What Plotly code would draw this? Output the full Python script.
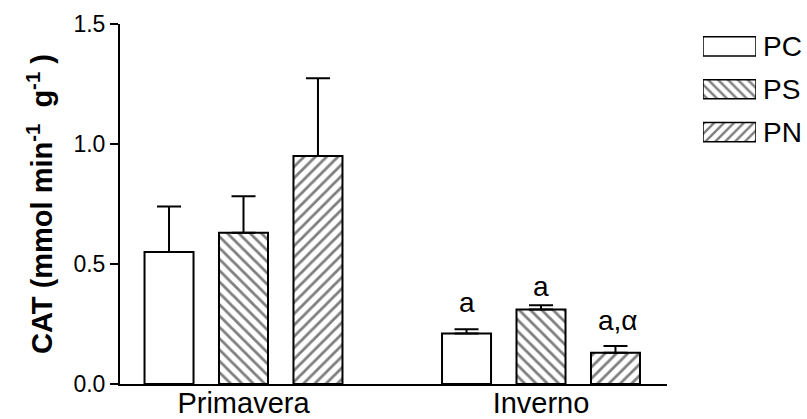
import plotly.graph_objects as go

# ---- data ----
seasons = ["Primavera", "Inverno"]
groups = ["PC", "PS", "PN"]
pc_vals = [0.55, 0.21]
pc_err = [0.19, 0.018]
ps_vals = [0.63, 0.31]
ps_err = [0.152, 0.018]
pn_vals = [0.95, 0.13]
pn_err = [0.324, 0.028]
sig_labels = ["a", "a", "a,α"]  # Inverno: PC, PS, PN
yticks = [0.0, 0.5, 1.0, 1.5]

FONT = "Liberation Sans, Arial, sans-serif"
patterns = {"PC": "", "PS": "\\", "PN": "/"}
values = {"PC": pc_vals, "PS": ps_vals, "PN": pn_vals}
errors = {"PC": pc_err, "PS": ps_err, "PN": pn_err}

fig = go.Figure()
for g in groups:
    fig.add_trace(go.Bar(
        x=seasons, y=values[g], name=g, showlegend=False,
        marker=dict(color="white", line=dict(color="black", width=2),
                    pattern=dict(shape=patterns[g], fgcolor="black", bgcolor="white",
                                 size=8, solidity=0.35)),
        error_y=dict(type="data", symmetric=False, array=errors[g],
                     arrayminus=[0] * len(seasons), color="black",
                     thickness=2, width=12),
        xaxis="x", yaxis="y",
    ))

# legend swatches drawn as a small horizontal bar panel
for g in groups:
    fig.add_trace(go.Bar(
        x=[1], y=[g], orientation="h", base=0, width=0.45, showlegend=False,
        cliponaxis=False, hoverinfo="skip",
        marker=dict(color="white", line=dict(color="black", width=1.5),
                    pattern=dict(shape=patterns[g], fgcolor="black", bgcolor="white",
                                 size=7, solidity=0.35)),
        xaxis="x2", yaxis="y2",
    ))

n = len(groups)
bargap = 0.249
slot = (1 - bargap) / n
shifts = [27, 19, 26]
xshifts = [0, 0, 3]
for i, g in enumerate(groups):
    xi = 1 + (i - (n - 1) / 2) * slot
    fig.add_annotation(x=xi, y=values[g][1] + errors[g][1], xref="x", yref="y",
                       text=sig_labels[i], showarrow=False, yanchor="middle",
                       yshift=shifts[i], xshift=xshifts[i],
                       font=dict(family=FONT, size=28, color="black"))

L, R, T, B = 120, 40, 24, 35
W, H = 807, 419
pw = W - L - R
ph = H - T - B

fig.update_layout(
    width=W, height=H,
    margin=dict(l=L, r=R, t=T, b=B, autoexpand=False),
    paper_bgcolor="white", plot_bgcolor="white",
    barmode="group", bargap=bargap, bargroupgap=0.342,
    font=dict(family=FONT, color="black"),
    xaxis=dict(domain=[0, 547 / pw], range=[-0.4151, 1.4235],
               showline=True, linecolor="black", linewidth=2,
               ticks="", showgrid=False, zeroline=False, automargin=False,
               ticklabelstandoff=-8,
               tickfont=dict(family=FONT, size=29, color="black")),
    yaxis=dict(range=[0, 1.5], tickvals=yticks, tickformat=".1f",
               showline=True, linecolor="black", linewidth=2,
               ticks="outside", ticklen=8, tickwidth=2, tickcolor="black",
               showgrid=False, zeroline=False, automargin=False,
               tickfont=dict(family=FONT, size=23, color="black"),
               title=dict(text="<b>CAT (mmol min<sup>-1</sup>  g<sup>-1</sup> )</b>",
                          font=dict(family=FONT, size=29, color="black"),
                          standoff=12)),
    xaxis2=dict(domain=[(703 - L) / pw, (756 - L) / pw], range=[0, 1],
                anchor="y2", showline=False, showgrid=False, zeroline=False,
                showticklabels=False, ticks="", fixedrange=True, automargin=False),
    yaxis2=dict(domain=[(ph - (153.4 - T)) / ph, (ph - (25.1 - T)) / ph],
                range=[2.5, -0.5], anchor="x2", side="right",
                showline=False, showgrid=False, zeroline=False, ticks="",
                ticklabelstandoff=6, automargin=False,
                tickfont=dict(family=FONT, size=28, color="black"),
                fixedrange=True),
)

fig.write_html("out.html")
